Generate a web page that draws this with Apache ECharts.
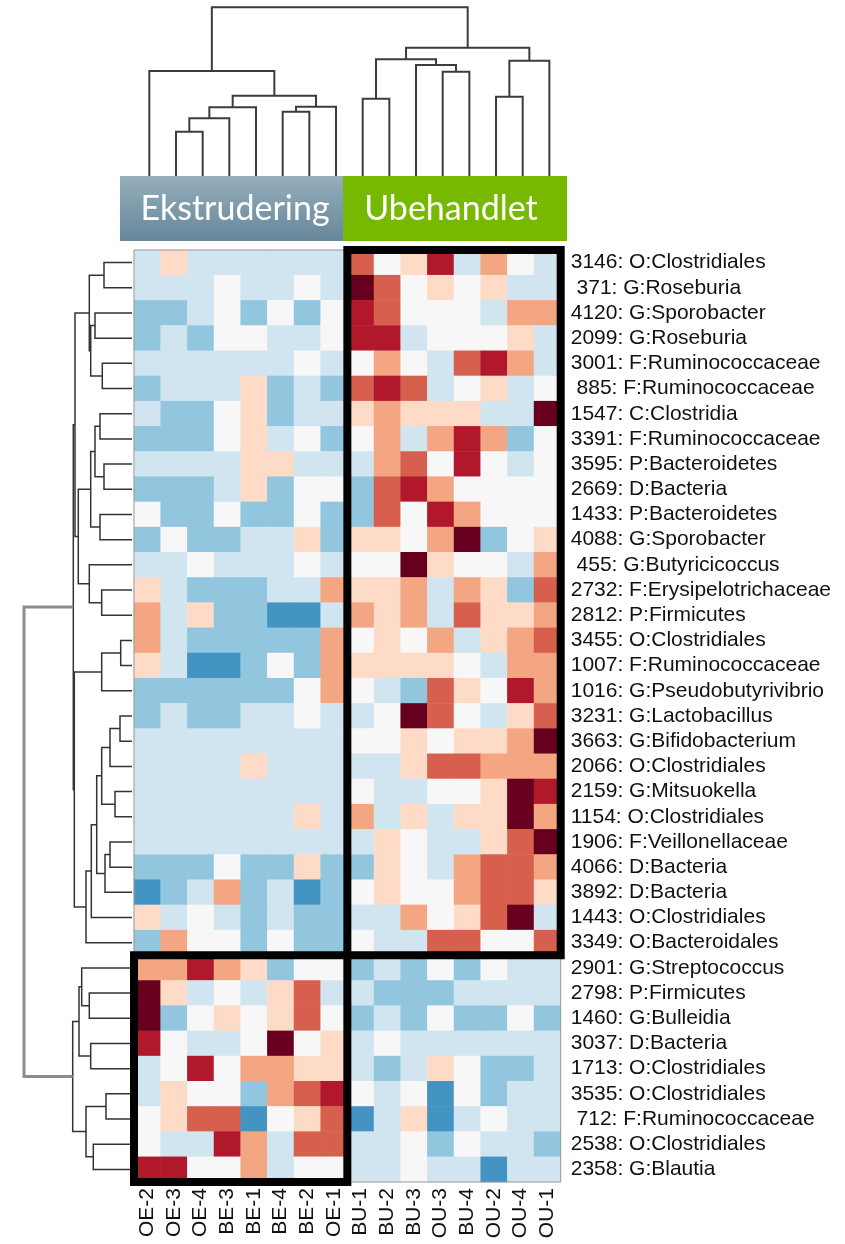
<!DOCTYPE html>
<html>
<head>
<meta charset="utf-8">
<script src="https://cdn.jsdelivr.net/npm/echarts@6/dist/echarts.min.js"></script>
<style>
  html, body { margin: 0; padding: 0; background: #ffffff; }
  #chart { width: 845px; height: 1244px; }
</style>
</head>
<body>
<div id="chart"></div>
<script>
// Samples (columns), in dendrogram order
const samples = ['OE-2','OE-3','OE-4','BE-3','BE-1','BE-4','BE-2','OE-1',
                 'BU-1','BU-2','BU-3','OU-3','BU-4','OU-2','OU-4','OU-1'];

// OTUs (rows), in dendrogram order
const otuIds = [3146, 371, 4120, 2099, 3001, 885, 1547, 3391, 3595, 2669, 1433, 4088, 455,
                2732, 2812, 3455, 1007, 1016, 3231, 3663, 2066, 2159, 1154, 1906, 4066, 3892,
                1443, 3349, 2901, 2798, 1460, 3037, 1713, 3535, 712, 2538, 2358];
const taxa = ['O:Clostridiales','G:Roseburia','G:Sporobacter','G:Roseburia','F:Ruminococcaceae',
              'F:Ruminococcaceae','C:Clostridia','F:Ruminococcaceae','P:Bacteroidetes','D:Bacteria',
              'P:Bacteroidetes','G:Sporobacter','G:Butyricicoccus','F:Erysipelotrichaceae','P:Firmicutes',
              'O:Clostridiales','F:Ruminococcaceae','G:Pseudobutyrivibrio','G:Lactobacillus','G:Bifidobacterium',
              'O:Clostridiales','G:Mitsuokella','O:Clostridiales','F:Veillonellaceae','D:Bacteria',
              'D:Bacteria','O:Clostridiales','O:Bacteroidales','G:Streptococcus','P:Firmicutes',
              'G:Bulleidia','D:Bacteria','O:Clostridiales','O:Clostridiales','F:Ruminococcaceae',
              'O:Clostridiales','G:Blautia'];

// Scaled abundance level per OTU (row) and sample (column), -3 (low) .. 5 (high)
const levels = [
  [-1, 1,-1,-1,-1,-1,-1,-1,  3, 0, 1, 4,-1, 2, 0,-1],
  [-1,-1,-1, 0,-1,-1, 0,-1,  5, 3, 0, 1, 0, 1,-1,-1],
  [-2,-2,-1, 0,-2, 0,-2, 0,  4, 3, 0, 0, 0,-1, 2, 2],
  [-2,-1,-2, 0, 0,-1,-1, 0,  4, 4,-1, 0, 0, 0, 1,-1],
  [-1,-1,-1,-1,-1,-1, 0,-1,  0, 2, 0,-1, 3, 4, 2,-1],
  [-2,-1,-1,-1, 1,-2,-1,-2,  3, 4, 3,-1, 0, 1,-1, 0],
  [-1,-2,-2, 0, 1,-2,-1,-1,  1, 2, 1, 1, 1,-1,-1, 5],
  [-2,-2,-2, 0, 1,-1, 0,-2,  0, 2,-1, 2, 4, 2,-2, 0],
  [-1,-1,-1,-1, 1, 1,-1,-1, -1, 2, 3, 0, 4, 0,-1, 0],
  [-2,-2,-2,-1, 1,-2, 0, 0, -2, 3, 4, 2, 0, 0, 0, 0],
  [ 0,-2,-2, 0,-2,-2, 0,-2, -2, 3, 0, 4, 2, 0, 0, 0],
  [-2, 0,-2,-2,-1,-1, 1,-2,  1, 1, 0, 2, 5,-2, 0, 1],
  [-1,-1, 0,-1,-1,-1, 0,-1,  0, 0, 5, 1, 0, 0,-1, 2],
  [ 1,-1,-2,-2,-2,-1,-1, 2,  1, 1, 2,-1, 2, 1,-2, 3],
  [ 2,-1, 1,-2,-2,-3,-3,-1,  2, 1, 2,-1, 3, 1, 1, 2],
  [ 2,-1,-2,-2,-2,-2,-2, 2,  0, 1, 0, 2,-1, 1, 2, 3],
  [ 1,-1,-3,-3,-2, 0,-2, 2,  1, 1, 1, 1, 0,-1, 2, 2],
  [-2,-2,-2,-2,-2,-2, 0, 2,  0,-1,-2, 3, 1, 0, 4, 2],
  [-2,-1,-2,-2,-1,-1, 0,-1, -1, 0, 5, 3, 0,-1, 1, 3],
  [-1,-1,-1,-1,-1,-1,-1,-1,  0, 0, 1, 0, 1, 1, 2, 5],
  [-1,-1,-1,-1, 1,-1,-1,-1, -1,-1, 1, 3, 3, 2, 2, 2],
  [-1,-1,-1,-1,-1,-1,-1,-1,  0,-1,-1, 0, 0, 1, 5, 4],
  [-1,-1,-1,-1,-1,-1, 1,-1,  2,-1, 1,-1, 1, 1, 5, 2],
  [-1,-1,-1,-1,-1,-1,-1,-1, -1, 1, 0,-1,-1, 1, 3, 5],
  [-2,-2,-2, 0,-2,-2, 1,-2, -2, 1, 0,-1, 2, 3, 3, 2],
  [-3,-2,-1, 2,-2,-1,-3,-2,  0, 1, 0, 0, 2, 3, 3, 1],
  [ 1,-1, 0,-1,-2,-1,-2,-2, -1,-1, 2, 0, 1, 3, 5,-1],
  [-2, 2, 0, 0,-2, 0,-2,-2,  0,-1,-1, 3, 3, 0, 0, 3],
  [ 2, 2, 4, 2, 1,-2, 0, 0, -2,-1,-2, 0,-2, 0,-1,-1],
  [ 5, 1,-1, 0,-1, 1, 3,-1, -1,-2,-2,-2,-1,-1,-1,-1],
  [ 5,-2, 0, 1, 0, 1, 3, 0, -2,-1,-2, 0,-2,-2, 0,-2],
  [ 4, 0,-1,-1, 0, 5, 0, 1, -1, 0,-1,-1,-1,-1,-1,-1],
  [-1, 0, 4, 0, 2, 2, 1, 1, -1,-2,-1, 1, 0,-2,-2,-1],
  [-1, 1, 0, 0,-2, 2, 3, 4,  0,-1, 0,-3, 0,-2,-1,-1],
  [ 0, 1, 3, 3,-3, 0, 1, 3, -3,-1, 1,-3,-1, 0,-1,-1],
  [ 0,-1,-1, 4, 2,-1, 3, 3, -1,-1, 0,-2, 0,-1,-1,-2],
  [ 4, 4, 0, 0, 2,-1, 0, 0, -1,-1, 0,-1,-1,-3,-1,-1]
];
const levelValues = [-3, -2, -1, 0, 1, 2, 3, 4, 5];
const levelColors = ['#4393c3', '#92c5de', '#d1e5f0', '#f7f7f7', '#fddbc7',
                     '#f4a582', '#d6604d', '#b2182b', '#67001f'];

// Sample clustering: [childA, childB, height]; ids >= 16 refer to earlier merges
const colMerges = [
  [1, 2, 44.3], [16, 3, 57.7], [17, 4, 68.7], [5, 6, 64.3], [19, 7, 69.3],
  [18, 20, 80.3], [0, 21, 105], [8, 9, 77.3], [11, 12, 104.3], [10, 24, 111],
  [23, 25, 116.7], [13, 14, 79.3], [27, 15, 115.3], [26, 28, 128.3], [22, 29, 168.7]
];
// OTU clustering: ids >= 37 refer to earlier merges
const rowMerges = [
  [0, 1, 28], [2, 3, 37], [4, 5, 29.7], [38, 39, 41.3], [37, 40, 42.7],
  [6, 7, 32], [8, 9, 28], [42, 43, 37], [10, 11, 32], [44, 45, 41.3],
  [13, 14, 30.3], [12, 47, 42.7], [46, 48, 53.7], [41, 49, 57],
  [15, 16, 11.3], [51, 17, 30.3], [18, 19, 12], [53, 20, 22], [21, 22, 17],
  [54, 55, 30.3], [23, 24, 22], [57, 25, 27], [56, 58, 35.3], [59, 26, 40.7],
  [60, 27, 46], [52, 61, 57.7], [50, 62, 58.7],
  [29, 30, 42.7], [28, 64, 50.3], [31, 32, 41.3], [65, 66, 53],
  [33, 34, 26], [35, 36, 38.7], [68, 69, 46], [67, 70, 59.3], [63, 71, 108]
];

const groupLabels = ['Ekstrudering', 'Ubehandlet'];
// Highlighted blocks: [firstCol, lastCol, firstRow, lastRow]
const blocks = [[8, 15, 0, 27], [0, 7, 28, 36]];

const rowLabels = otuIds.map((id, i) => String(id).padStart(4, ' ') + ': ' + taxa[i]);
const heatData = [];
levels.forEach((row, r) => row.forEach((v, c) => heatData.push([c, r, v])));

function dendroLinks(n, merges, vertical) {
  const pos = [], hgt = [];
  for (let i = 0; i < n; i++) { pos[i] = i; hgt[i] = 0; }
  return merges.map(([a, b, h], k) => {
    const id = n + k;
    pos[id] = (pos[a] + pos[b]) / 2;
    hgt[id] = h;
    const pts = [[pos[a], hgt[a]], [pos[a], h], [pos[b], h], [pos[b], hgt[b]]];
    return { coords: vertical ? pts : pts.map(([p, v]) => [v, p]) };
  });
}
const colLinks = dendroLinks(samples.length, colMerges, true);
const rowLinks = dendroLinks(otuIds.length, rowMerges, false);
rowLinks[rowLinks.length - 1].lineStyle = { color: '#8c8c8c', width: 3 };

// Layout
const G = { left: 134, top: 250, width: 426.7, height: 932 };
const cw = G.width / samples.length;
const rh = G.height / otuIds.length;
const FONT = '"Liberation Sans", Arial, sans-serif';

const chart = echarts.init(document.getElementById('chart'), null, { renderer: 'canvas' });

const graphics = [
  {
    type: 'rect', left: 120, top: 176, z: 10,
    shape: { width: 223, height: 65 },
    style: { fill: { type: 'linear', x: 0, y: 0, x2: 0, y2: 1,
      colorStops: [{ offset: 0, color: '#95afbb' }, { offset: 1, color: '#66869a' }] } }
  },
  {
    type: 'rect', left: 343, top: 176, z: 10,
    shape: { width: 224, height: 65 },
    style: { fill: '#77b800' }
  },
  {
    type: 'text', x: 235, y: 209, z: 11,
    style: { text: groupLabels[0], fill: '#ffffff', font: '34px Lato, "Open Sans", sans-serif',
             textAlign: 'center', textVerticalAlign: 'middle' }
  },
  {
    type: 'text', x: 451, y: 209, z: 11,
    style: { text: groupLabels[1], fill: '#ffffff', font: '34px Lato, "Open Sans", sans-serif',
             textAlign: 'center', textVerticalAlign: 'middle' }
  },
  {
    type: 'rect', z: 5, silent: true,
    shape: { x: G.left, y: G.top, width: G.width, height: G.height },
    style: { fill: null, stroke: '#999999', lineWidth: 1 }
  }
];
blocks.forEach(([c0, c1, r0, r1]) => {
  graphics.push({
    type: 'rect', z: 12, silent: true,
    shape: { x: G.left + c0 * cw, y: G.top + r0 * rh,
             width: (c1 - c0 + 1) * cw, height: (r1 - r0 + 1) * rh },
    style: { fill: null, stroke: '#000000', lineWidth: 8 }
  });
});

chart.setOption({
  backgroundColor: '#ffffff',
  animation: false,
  grid: [
    { left: G.left, top: G.top, width: G.width, height: G.height },
    { left: G.left + 2, top: 0, width: G.width, height: 176 },
    { left: 0, top: G.top, width: 132, height: G.height }
  ],
  xAxis: [
    { type: 'category', gridIndex: 0, data: samples, position: 'bottom',
      axisLine: { show: false }, axisTick: { show: false }, splitLine: { show: false },
      axisLabel: { interval: 0, rotate: 90, margin: 6, fontSize: 21, color: '#111', fontFamily: FONT } },
    { type: 'value', gridIndex: 1, min: -0.5, max: samples.length - 0.5, show: false },
    { type: 'value', gridIndex: 2, min: 0, max: 132, inverse: true, show: false }
  ],
  yAxis: [
    { type: 'category', gridIndex: 0, data: rowLabels, inverse: true, position: 'right',
      axisLine: { show: false }, axisTick: { show: false }, splitLine: { show: false },
      axisLabel: { interval: 0, margin: 10, fontSize: 21, color: '#111', fontFamily: FONT } },
    { type: 'value', gridIndex: 1, min: 0, max: 176, show: false },
    { type: 'value', gridIndex: 2, min: -0.5, max: otuIds.length - 0.5, inverse: true, show: false }
  ],
  visualMap: {
    type: 'piecewise', show: false, seriesIndex: 0, dimension: 2,
    pieces: levelValues.map((v, i) => ({ value: v, color: levelColors[i] }))
  },
  series: [
    { type: 'heatmap', xAxisIndex: 0, yAxisIndex: 0, data: heatData, silent: true,
      itemStyle: { borderWidth: 0 } },
    { type: 'lines', coordinateSystem: 'cartesian2d', xAxisIndex: 1, yAxisIndex: 1,
      polyline: true, silent: true, data: colLinks,
      lineStyle: { color: '#3c3c3c', width: 2, opacity: 1 } },
    { type: 'lines', coordinateSystem: 'cartesian2d', xAxisIndex: 2, yAxisIndex: 2,
      polyline: true, silent: true, data: rowLinks,
      lineStyle: { color: '#333333', width: 1.5, opacity: 1 } }
  ],
  graphic: graphics
});
</script>
</body>
</html>
